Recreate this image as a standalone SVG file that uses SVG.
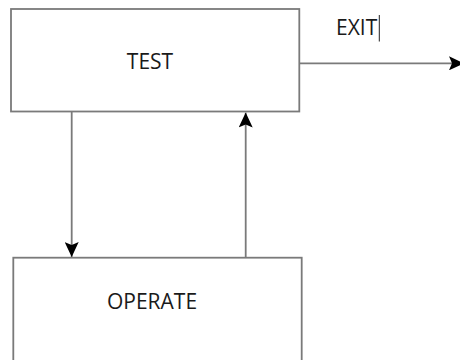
<svg xmlns="http://www.w3.org/2000/svg" width="460" height="360" viewBox="0 0 460 360">
  <style>
    .box { fill: #ffffff; stroke: #7a7a7a; stroke-width: 1.8; }
    .label { font-family: "Open Sans", "Noto Sans", sans-serif; font-size: 21px; fill: #1a1a1a; }
    .edge { fill: none; stroke: #7a7a7a; stroke-width: 1.8; marker-end: url(#arrow); }
  </style>
  <defs>
    <marker id="arrow" markerUnits="userSpaceOnUse" viewBox="0 0 15 14" markerWidth="15" markerHeight="14" refX="15" refY="7" orient="auto">
      <path d="M0,0 L15,7 L0,14 L3,7 Z" fill="#000000"/>
    </marker>
  </defs>

  <rect width="460" height="360" fill="#ffffff"/>

  <g id="test">
    <rect class="box" x="11" y="9" width="288.3" height="102.5"/>
    <text class="label" x="150" y="68.8" text-anchor="middle">TEST</text>
  </g>

  <g id="operate">
    <rect class="box" x="13.3" y="257.7" width="288.4" height="110"/>
    <text class="label" x="152" y="309.2" text-anchor="middle">OPERATE</text>
  </g>

  <g id="exit-label">
    <text class="label" x="336" y="34.5">EXIT</text>
    <line x1="379.3" y1="15" x2="379.3" y2="41.5" stroke="#222222" stroke-width="1"/>
  </g>

  <g id="connectors">
    <line class="edge" x1="71.7" y1="112" x2="71.7" y2="257"/>
    <line class="edge" x1="245.7" y1="257.5" x2="245.7" y2="112.5"/>
    <line class="edge" x1="299.3" y1="63.3" x2="464" y2="63.3"/>
  </g>
</svg>
